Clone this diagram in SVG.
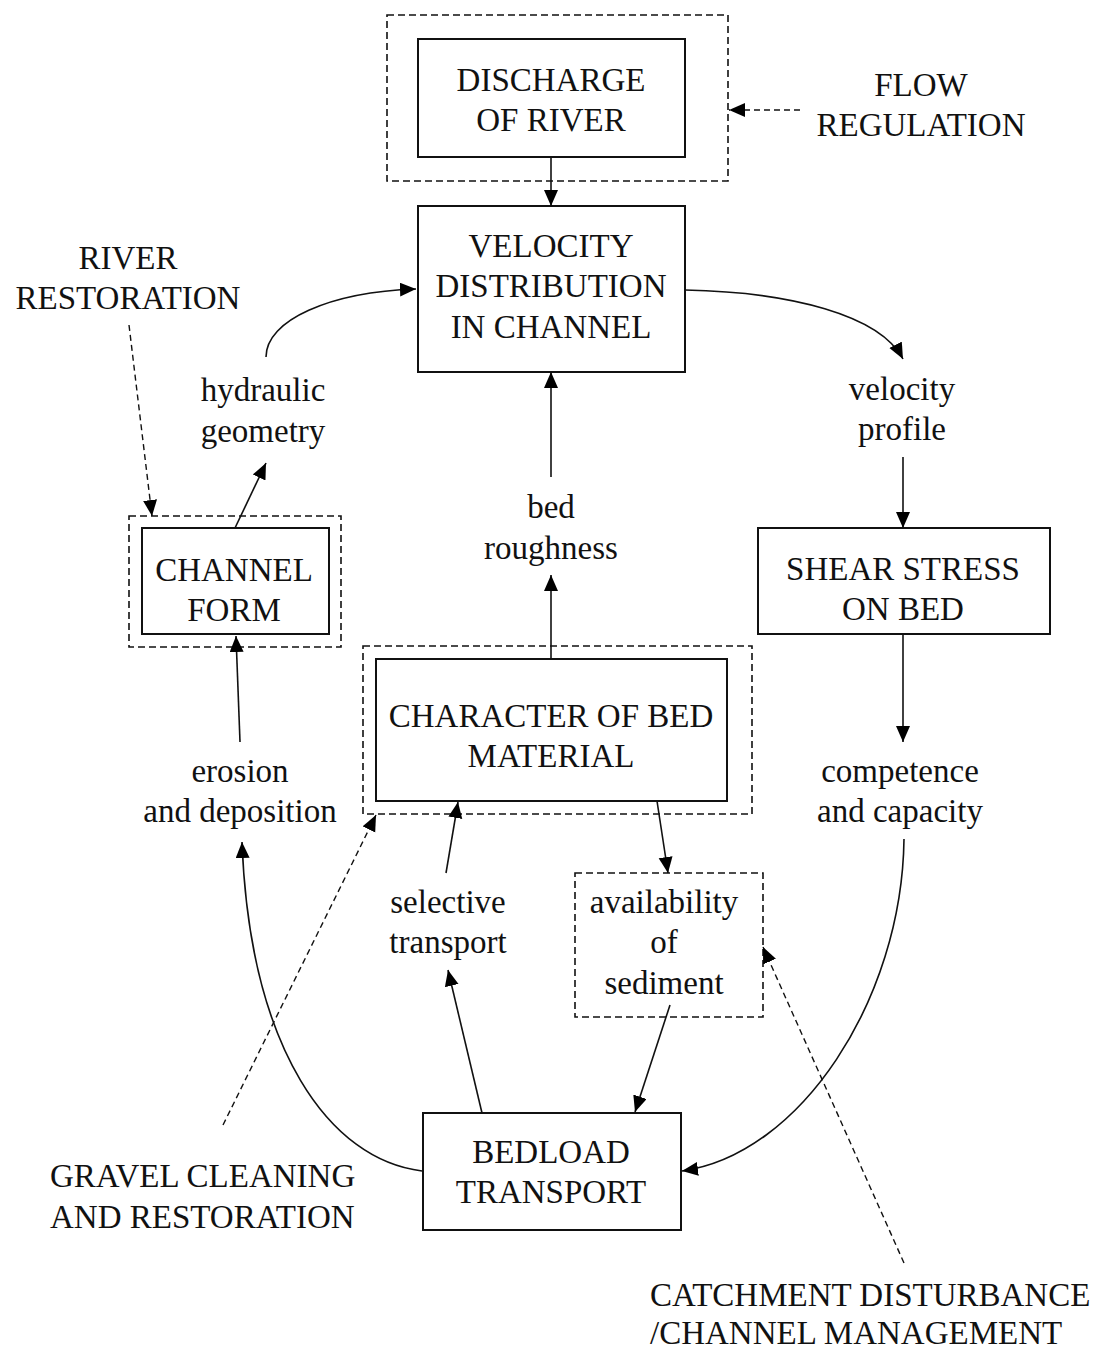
<svg xmlns="http://www.w3.org/2000/svg" width="1099" height="1351" viewBox="0 0 1099 1351">
<defs>
<marker id="ah" markerWidth="17" markerHeight="15" refX="16" refY="7" orient="auto" markerUnits="userSpaceOnUse">
<path d="M0,0 L16,7 L0,14 z" fill="#000"/>
</marker>
<style>
text{font-family:"Liberation Serif","Times New Roman",serif;font-size:33px;fill:#111;text-anchor:middle}
.box{fill:none;stroke:#111;stroke-width:2}
.dbox{fill:none;stroke:#111;stroke-width:1.6;stroke-dasharray:7,4}
.ln{fill:none;stroke:#111;stroke-width:1.6;marker-end:url(#ah)}
.dl{fill:none;stroke:#111;stroke-width:1.4;stroke-dasharray:6,4;marker-end:url(#ah)}
.l{text-anchor:start}
</style>
</defs>
<rect width="1099" height="1351" fill="#fff"/>
<g id="discharge">
<rect class="dbox" x="387" y="15" width="341" height="166"/>
<rect class="box" x="418" y="39" width="267" height="118"/>
<text x="551" y="91">DISCHARGE</text>
<text x="551" y="131">OF RIVER</text>
</g>
<g id="flow-regulation">
<text x="921" y="96">FLOW</text>
<text x="921" y="136">REGULATION</text>
</g>
<g id="velocity-distribution">
<rect class="box" x="418" y="206" width="267" height="166"/>
<text x="551" y="257">VELOCITY</text>
<text x="551" y="297">DISTRIBUTION</text>
<text x="551" y="338">IN CHANNEL</text>
</g>
<g id="river-restoration">
<text x="128" y="269">RIVER</text>
<text x="128" y="309">RESTORATION</text>
</g>
<g id="hydraulic-geometry">
<text x="263" y="401">hydraulic</text>
<text x="263" y="442">geometry</text>
</g>
<g id="velocity-profile">
<text x="902" y="400">velocity</text>
<text x="902" y="440">profile</text>
</g>
<g id="bed-roughness">
<text x="551" y="518">bed</text>
<text x="551" y="559">roughness</text>
</g>
<g id="channel-form">
<rect class="dbox" x="129" y="516" width="212" height="131"/>
<rect class="box" x="142" y="528" width="187" height="106"/>
<text x="234" y="581">CHANNEL</text>
<text x="234" y="621">FORM</text>
</g>
<g id="shear-stress">
<rect class="box" x="758" y="528" width="292" height="106"/>
<text x="903" y="580">SHEAR STRESS</text>
<text x="903" y="620">ON BED</text>
</g>
<g id="bed-material">
<rect class="dbox" x="363" y="646" width="389" height="168"/>
<rect class="box" x="376" y="659" width="351" height="142"/>
<text x="551" y="727">CHARACTER OF BED</text>
<text x="551" y="767">MATERIAL</text>
</g>
<g id="erosion-deposition">
<text x="240" y="782">erosion</text>
<text x="240" y="822">and deposition</text>
</g>
<g id="competence-capacity">
<text x="900" y="782">competence</text>
<text x="900" y="822">and capacity</text>
</g>
<g id="selective-transport">
<text x="448" y="913">selective</text>
<text x="448" y="953">transport</text>
</g>
<g id="availability-sediment">
<rect class="dbox" x="575" y="873" width="188" height="144"/>
<text x="664" y="913">availability</text>
<text x="664" y="953">of</text>
<text x="664" y="994">sediment</text>
</g>
<g id="bedload-transport">
<rect class="box" x="423" y="1113" width="258" height="117"/>
<text x="551" y="1163">BEDLOAD</text>
<text x="551" y="1203">TRANSPORT</text>
</g>
<g id="gravel-cleaning">
<text class="l" x="50" y="1187">GRAVEL CLEANING</text>
<text class="l" x="50" y="1228">AND RESTORATION</text>
</g>
<g id="catchment-disturbance">
<text class="l" x="650" y="1306">CATCHMENT DISTURBANCE</text>
<text class="l" x="650" y="1344">/CHANNEL MANAGEMENT</text>
</g>
<g id="connectors">
<path class="ln" d="M551,157 L551,206"/>
<path class="dl" d="M800,110 L729,110"/>
<path class="ln" d="M266,357 C266,320 330,292 416,289"/>
<path class="dl" d="M129,325 L152,516"/>
<path class="ln" d="M235,528 L266,463"/>
<path class="ln" d="M685,290 C790,292 880,315 903,359"/>
<path class="ln" d="M903,457 L903,528"/>
<path class="ln" d="M551,477 L551,372"/>
<path class="ln" d="M551,659 L551,575"/>
<path class="ln" d="M903,634 L903,742"/>
<path class="ln" d="M240,742 L236,636"/>
<path class="ln" d="M446,873 L458,802"/>
<path class="ln" d="M657,801 L668,873"/>
<path class="ln" d="M670,1005 L635,1112"/>
<path class="ln" d="M482,1113 L448,970"/>
<path class="ln" d="M904,839 C902,1000 800,1155 682,1171"/>
<path class="ln" d="M422,1171 C330,1160 250,1050 242,842"/>
<path class="dl" d="M223,1125 L376,815"/>
<path class="dl" d="M904,1263 L763,947"/>
</g>
</svg>
